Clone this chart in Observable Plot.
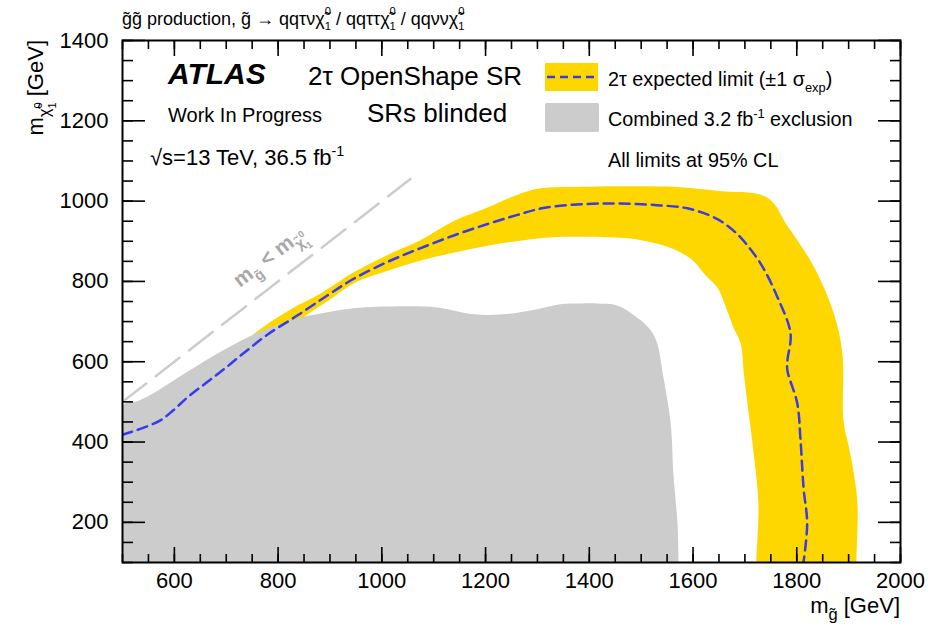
<!DOCTYPE html>
<html><head><meta charset="utf-8">
<script src="https://cdn.jsdelivr.net/npm/d3@7"></script>
<script src="https://cdn.jsdelivr.net/npm/@observablehq/plot@0.6"></script>
<style>
body{margin:0;background:#fff;}
#chart svg{display:block;}
</style></head><body><div id="chart"></div>
<script>
// ---- data (GeV) ----
const xMajor = [600, 800, 1000, 1200, 1400, 1600, 1800, 2000];
const yMajor = [200, 400, 600, 800, 1000, 1200, 1400];

// Combined 3.2 fb-1 exclusion (grey); the y=40 points lie below the axis and are clipped
const grayX = [500, 500, 530, 560, 625, 689, 753, 818, 843, 890, 945, 1042, 1107, 1177, 1234, 1290, 1344, 1383, 1416, 1454, 1499, 1520, 1531, 1543, 1557, 1562, 1570, 1572, 1572];
const grayY = [40, 490, 502, 522, 575, 625, 668, 700, 710, 722, 733, 738, 735, 718, 718, 728, 743, 745, 745, 740, 703, 675, 645, 561, 446, 322, 197, 100, 40];

// +-1 sigma band: outer edge
const outerX = [500, 566, 633, 702, 760, 818, 882, 945, 1011, 1075, 1138, 1204, 1250, 1300, 1396, 1499, 1570, 1650, 1743, 1782, 1832, 1871, 1888, 1890, 1900, 1909, 1917, 1915, 1915];
const outerY = [445, 470, 540, 610, 676, 726, 770, 822, 866, 903, 950, 984, 1010, 1031, 1036, 1037, 1035, 1025, 1009, 938, 839, 722, 621, 454, 390, 330, 247, 100, 40];
// +-1 sigma band: inner edge
const innerX = [500, 566, 633, 702, 772, 843, 900, 945, 1010, 1075, 1140, 1204, 1270, 1331, 1427, 1470, 1510, 1556, 1595, 1628, 1647, 1665, 1678, 1692, 1698, 1705, 1717, 1726, 1722, 1722];
const innerY = [390, 415, 490, 560, 630, 705, 755, 795, 826, 852, 872, 889, 902, 910, 910, 908, 900, 884, 857, 810, 785, 730, 685, 645, 570, 496, 371, 247, 100, 40];

// expected limit
const expX = [500, 541, 573, 598, 625, 664, 702, 737, 780, 837, 895, 945, 1010, 1075, 1140, 1204, 1260, 1312, 1396, 1460, 1530, 1589, 1640, 1666, 1692, 1730, 1763, 1788, 1782, 1782, 1801, 1807, 1813, 1820, 1813];
const expY = [418, 436, 454, 479, 511, 550, 588, 625, 668, 715, 765, 806, 848, 883, 915, 943, 965, 983, 993, 994, 990, 982, 960, 939, 909, 845, 760, 670, 603, 578, 496, 411, 287, 197, 100];

// kinematic limit m_gluino = m_chi
const diagX = [500, 1055];
const diagY = [500, 1055];

const FONT = "'Liberation Sans', Arial, Helvetica, sans-serif";
const pts = (xs, ys) => xs.map((x, i) => ({x, y: ys[i]}));
const gray = pts(grayX, grayY);
const band = pts(outerX, outerY).concat(pts(innerX, innerY).reverse());
const exp = pts(expX, expY);
const diag = pts(diagX, diagY);
const minorX = d3.range(500, 2001, 50);
const minorY = d3.range(100, 1401, 50);

const plot = Plot.plot({
  width: 931, height: 630,
  marginLeft: 122, marginRight: 31, marginTop: 40, marginBottom: 68,
  style: {fontFamily: FONT, background: "white", color: "black"},
  x: {domain: [500, 2000]},
  y: {domain: [100, 1400]},
  marks: [
    Plot.line(band, {x: "x", y: "y", fill: "#ffd700", stroke: "none", curve: "catmull-rom", clip: true}),
    Plot.line(gray, {x: "x", y: "y", fill: "#cccccc", stroke: "none", curve: "catmull-rom", clip: true}),
    Plot.line(diag, {x: "x", y: "y", stroke: "#cccccc", strokeWidth: 2.5, strokeDasharray: "30,12", clip: true}),
    Plot.line(exp, {x: "x", y: "y", stroke: "#3a3ae6", strokeWidth: 2.5, strokeDasharray: "10,6", curve: "catmull-rom", clip: true}),
    // inward ticks, all four sides
    Plot.axisX({anchor: "bottom", ticks: minorX, tickSize: -8, tickFormat: () => "", label: null, strokeWidth: 1.6}),
    Plot.axisX({anchor: "bottom", ticks: xMajor, tickSize: -15, tickFormat: () => "", label: null, strokeWidth: 1.6}),
    Plot.axisX({anchor: "top", ticks: minorX, tickSize: -8, tickFormat: () => "", label: null, strokeWidth: 1.6}),
    Plot.axisX({anchor: "top", ticks: xMajor, tickSize: -15, tickFormat: () => "", label: null, strokeWidth: 1.6}),
    Plot.axisY({anchor: "left", ticks: minorY, tickSize: -11, tickFormat: () => "", label: null, strokeWidth: 1.6}),
    Plot.axisY({anchor: "left", ticks: yMajor, tickSize: -23, tickFormat: () => "", label: null, strokeWidth: 1.6}),
    Plot.axisY({anchor: "right", ticks: minorY, tickSize: -11, tickFormat: () => "", label: null, strokeWidth: 1.6}),
    Plot.axisY({anchor: "right", ticks: yMajor, tickSize: -23, tickFormat: () => "", label: null, strokeWidth: 1.6}),
    // tick labels
    Plot.axisX({anchor: "bottom", ticks: xMajor, tickSize: 0, tickPadding: 10, tickFormat: d => String(d), label: null, fontSize: 22}),
    Plot.axisY({anchor: "left", ticks: yMajor, tickSize: 0, tickPadding: 14, tickFormat: d => String(d), label: null, fontSize: 22}),
    Plot.frame({stroke: "black", strokeWidth: 2})
  ]
});
document.getElementById("chart").appendChild(plot);

// ---- annotations (rich text with sub/superscripts) ----
const svg = d3.select(plot);
function rich(x, y, parts, o = {}) {
  const size = o.size || 20;
  const t = svg.append("text")
    .attr("transform", `translate(${x},${y}) rotate(${o.rotate || 0})`)
    .attr("font-family", FONT).attr("font-size", size)
    .attr("text-anchor", o.anchor || "start")
    .attr("font-weight", o.weight || "normal")
    .attr("font-style", o.style || "normal")
    .attr("fill", o.fill || "black");
  let cur = 0, lastW = 0;
  for (const p of parts) {
    const q = typeof p === "string" ? {t: p} : p;
    const off = (q.b || 0) * size;
    const sp = t.append("tspan").attr("dy", off - cur).attr("font-size", size * (q.s || 1)).text(q.t);
    if (q.back) sp.attr("dx", -lastW);
    cur = off;
    lastW = sp.node().getComputedTextLength();
  }
  return t;
}
const chi = [{t: "\u03c7\u0303"}, {t: "0", s: 0.62, b: -0.55}, {t: "1", s: 0.62, b: 0.3, back: true}];

rich(122, 25, ["g\u0303g\u0303 production, g\u0303 \u2192 qq\u03c4\u03bd", ...chi, {t: " / qq\u03c4\u03c4"}, ...chi, {t: " / qq\u03bd\u03bd"}, ...chi], {size: 18});

rich(43, 40, ["m", {t: "\u03c7\u0303", s: 0.75, b: 0.3}, {t: "0", s: 0.5, b: -0.05}, {t: "1", s: 0.5, b: 0.6, back: true}, {t: " [GeV]", b: 0}], {size: 22, anchor: "end", rotate: -90});
rich(900, 613, ["m", {t: "g\u0303", s: 0.75, b: 0.3}, {t: " [GeV]", b: 0}], {size: 22, anchor: "end"});

rich(168, 84, ["ATLAS"], {size: 30, weight: "bold", style: "italic"});
rich(308, 85, ["2\u03c4 OpenShape SR"], {size: 26});
rich(168, 122, ["Work In Progress"], {size: 20});
rich(367, 122, ["SRs blinded"], {size: 26});
rich(150, 165, ["\u221As=13 TeV, 36.5 fb", {t: "-1", s: 0.65, b: -0.4}], {size: 22});

// legend
svg.append("rect").attr("x", 545).attr("y", 63).attr("width", 53).attr("height", 28).attr("fill", "#ffd700");
svg.append("line").attr("x1", 547).attr("x2", 598).attr("y1", 77).attr("y2", 77)
  .attr("stroke", "#3a3ae6").attr("stroke-width", 2.5).attr("stroke-dasharray", "8,5");
svg.append("rect").attr("x", 545).attr("y", 103).attr("width", 54).attr("height", 29).attr("rx", 2).attr("fill", "#cccccc");
rich(608, 86, ["2\u03c4 expected limit (\u00b11 \u03c3", {t: "exp", s: 0.65, b: 0.3}, {t: ")", b: 0}], {size: 19.8});
rich(608, 126, ["Combined 3.2 fb", {t: "-1", s: 0.65, b: -0.4}, {t: " exclusion", b: 0}], {size: 19.8});
rich(608, 167, ["All limits at 95% CL"], {size: 19.8});

// kinematic-limit label
rich(240, 288, ["m", {t: "g\u0303", s: 0.7, b: 0.3}, {t: " < m", b: 0}, {t: "\u03c7\u0303", s: 0.7, b: 0.3}, {t: "0", s: 0.45, b: -0.1}, {t: "1", s: 0.45, b: 0.55, back: true}],
  {size: 21, weight: "bold", fill: "#a8a8a8", rotate: -37.7});
</script></body></html>
